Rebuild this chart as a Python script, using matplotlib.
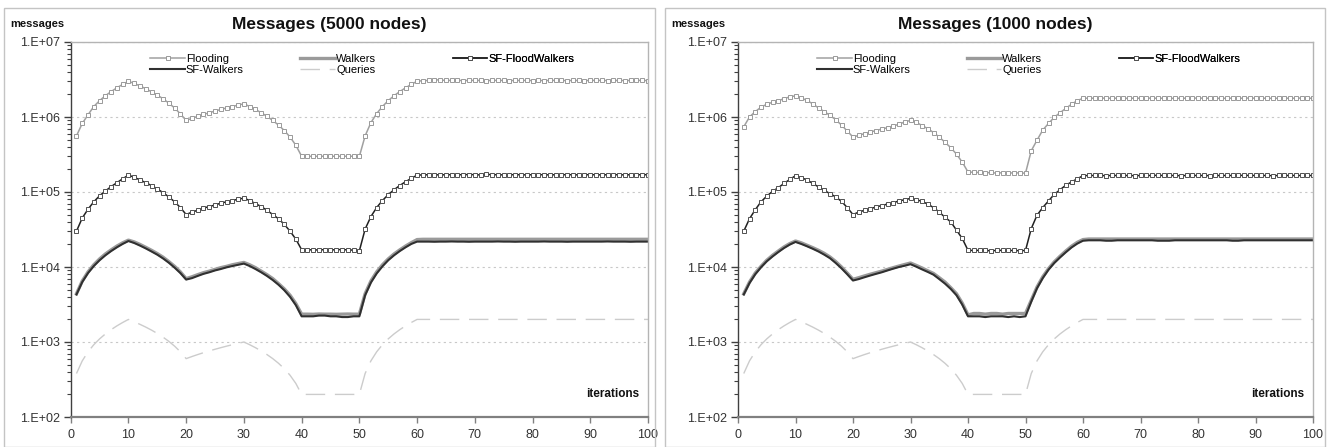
import numpy as np
import matplotlib
matplotlib.use("Agg")
import matplotlib.pyplot as plt
from matplotlib.patches import Rectangle
from matplotlib.ticker import LogLocator, FixedLocator, FuncFormatter, NullFormatter

plt.rcParams['font.family'] = ['Liberation Sans', 'DejaVu Sans']

iterations = np.arange(1, 101)

queries = [380, 560, 740, 920, 1100, 1280, 1460, 1640, 1820, 2000,
           1860, 1720, 1580, 1440, 1300, 1160, 1020, 880, 740, 600,
           640, 680, 720, 760, 800, 840, 880, 920, 960, 1000,
           920, 840, 760, 680, 600, 520, 440, 360, 280, 200,
           200, 200, 200, 200, 200, 200, 200, 200, 200, 200,
           380, 560, 740, 920, 1100, 1280, 1460, 1640, 1820, 2000,
           2000, 2000, 2000, 2000, 2000, 2000, 2000, 2000, 2000, 2000,
           2000, 2000, 2000, 2000, 2000, 2000, 2000, 2000, 2000, 2000,
           2000, 2000, 2000, 2000, 2000, 2000, 2000, 2000, 2000, 2000,
           2000, 2000, 2000, 2000, 2000, 2000, 2000, 2000, 2000, 2000]

# ---- 5000 nodes ----
flooding_5000 = [5.6e5, 8.2e5, 1.07e6, 1.38e6, 1.65e6, 1.92e6, 2.18e6, 2.45e6, 2.72e6, 3.0e6,
                 2.8e6, 2.6e6, 2.38e6, 2.17e6, 1.96e6, 1.75e6, 1.53e6, 1.32e6, 1.1e6, 0.9e6,
                 0.96e6, 1.02e6, 1.08e6, 1.14e6, 1.2e6, 1.26e6, 1.32e6, 1.38e6, 1.44e6, 1.5e6,
                 1.38e6, 1.26e6, 1.14e6, 1.02e6, 0.9e6, 0.78e6, 0.66e6, 0.54e6, 0.42e6, 0.3e6,
                 3.0e5, 2.98e5, 3.0e5, 2.99e5, 3.01e5, 2.98e5, 3.0e5, 2.99e5, 3.0e5, 2.98e5,
                 5.6e5, 8.4e5, 1.11e6, 1.38e6, 1.65e6, 1.92e6, 2.18e6, 2.45e6, 2.72e6, 3.0e6,
                 3.05e6, 3.07e6, 3.15e6, 3.1e6, 3.08e6, 3.07e6, 3.08e6, 3.06e6, 3.07e6, 3.08e6,
                 3.07e6, 3.06e6, 3.07e6, 3.08e6, 3.07e6, 3.06e6, 3.07e6, 3.07e6, 3.08e6, 3.06e6,
                 3.07e6, 3.06e6, 3.07e6, 3.08e6, 3.07e6, 3.06e6, 3.07e6, 3.07e6, 3.06e6, 3.07e6,
                 3.08e6, 3.07e6, 3.06e6, 3.07e6, 3.07e6, 3.06e6, 3.07e6, 3.08e6, 3.07e6, 3.06e6]

walkers_5000 = [4400, 6500, 8600, 10700, 12800, 14900, 16900, 19000, 21000, 22800,
                21600, 20000, 18300, 16700, 15100, 13500, 11800, 10200, 8600, 7000,
                7400, 7900, 8400, 8800, 9300, 9800, 10200, 10700, 11100, 11500,
                10700, 9800, 8800, 7900, 7000, 6000, 5100, 4200, 3250, 2350,
                2350, 2340, 2360, 2350, 2350, 2340, 2350, 2360, 2350, 2350,
                4400, 6500, 8600, 10700, 12800, 14900, 16900, 19000, 21100, 23200,
                23400, 23400, 23400, 23400, 23400, 23400, 23400, 23400, 23400, 23400,
                23400, 23400, 23400, 23400, 23400, 23400, 23400, 23400, 23400, 23400,
                23400, 23400, 23400, 23400, 23400, 23400, 23400, 23400, 23400, 23400,
                23400, 23400, 23400, 23400, 23400, 23400, 23400, 23400, 23400, 23400]

sf_flood_5000 = [3.0e4, 4.5e4, 5.9e4, 7.4e4, 8.9e4, 1.03e5, 1.18e5, 1.33e5, 1.5e5, 1.68e5,
                 1.57e5, 1.45e5, 1.33e5, 1.22e5, 1.1e5, 9.8e4, 8.6e4, 7.4e4, 6.2e4, 5.0e4,
                 5.4e4, 5.7e4, 6.1e4, 6.4e4, 6.7e4, 7.1e4, 7.4e4, 7.7e4, 8.0e4, 8.3e4,
                 7.7e4, 7.0e4, 6.4e4, 5.7e4, 5.0e4, 4.4e4, 3.7e4, 3.0e4, 2.35e4, 1.7e4,
                 1.69e4, 1.7e4, 1.68e4, 1.71e4, 1.69e4, 1.7e4, 1.71e4, 1.69e4, 1.68e4, 1.64e4,
                 3.2e4, 4.7e4, 6.2e4, 7.7e4, 9.2e4, 1.07e5, 1.22e5, 1.37e5, 1.52e5, 1.68e5,
                 1.69e5, 1.7e5, 1.7e5, 1.69e5, 1.7e5, 1.7e5, 1.7e5, 1.7e5, 1.71e5, 1.7e5,
                 1.69e5, 1.72e5, 1.7e5, 1.7e5, 1.69e5, 1.7e5, 1.7e5, 1.7e5, 1.69e5, 1.7e5,
                 1.7e5, 1.7e5, 1.69e5, 1.7e5, 1.7e5, 1.7e5, 1.7e5, 1.69e5, 1.7e5, 1.7e5,
                 1.7e5, 1.69e5, 1.7e5, 1.7e5, 1.7e5, 1.69e5, 1.7e5, 1.7e5, 1.7e5, 1.7e5]

sf_walkers_5000 = [4300, 6300, 8300, 10300, 12300, 14300, 16300, 18300, 20300, 22200,
                   20900, 19300, 17700, 16100, 14600, 13000, 11400, 9800, 8300, 6800,
                   7100, 7600, 8100, 8500, 9000, 9400, 9900, 10300, 10700, 11100,
                   10300, 9400, 8500, 7600, 6700, 5800, 4900, 4000, 3100, 2200,
                   2200, 2200, 2250, 2250, 2200, 2200, 2150, 2150, 2200, 2200,
                   4200, 6200, 8200, 10200, 12300, 14300, 16300, 18300, 20300, 21800,
                   21800, 21800, 21700, 21800, 21800, 21900, 21800, 21800, 21700, 21800,
                   21800, 21800, 21800, 21900, 21800, 21800, 21700, 21800, 21800, 21800,
                   21800, 21900, 21800, 21800, 21800, 21700, 21800, 21800, 21800, 21800,
                   21800, 21800, 21900, 21800, 21800, 21800, 21700, 21800, 21800, 21800]

# ---- 1000 nodes ----
flooding_1000 = [7.4e5, 1.0e6, 1.18e6, 1.35e6, 1.48e6, 1.57e6, 1.64e6, 1.76e6, 1.85e6, 1.92e6,
                 1.8e6, 1.66e6, 1.5e6, 1.32e6, 1.18e6, 1.05e6, 0.92e6, 0.78e6, 0.65e6, 0.54e6,
                 0.57e6, 0.6e6, 0.63e6, 0.66e6, 0.69e6, 0.72e6, 0.76e6, 0.8e6, 0.86e6, 0.9e6,
                 0.85e6, 0.77e6, 0.7e6, 0.62e6, 0.54e6, 0.46e6, 0.39e6, 0.32e6, 0.25e6, 0.185e6,
                 1.83e5, 1.82e5, 1.8e5, 1.82e5, 1.78e5, 1.81e5, 1.8e5, 1.79e5, 1.8e5, 1.78e5,
                 3.55e5, 4.9e5, 6.7e5, 8.2e5, 9.9e5, 1.14e6, 1.3e6, 1.48e6, 1.65e6, 1.78e6,
                 1.78e6, 1.78e6, 1.79e6, 1.78e6, 1.78e6, 1.78e6, 1.77e6, 1.78e6, 1.78e6, 1.78e6,
                 1.79e6, 1.78e6, 1.78e6, 1.78e6, 1.78e6, 1.77e6, 1.78e6, 1.78e6, 1.78e6, 1.79e6,
                 1.78e6, 1.78e6, 1.78e6, 1.77e6, 1.78e6, 1.78e6, 1.78e6, 1.78e6, 1.79e6, 1.78e6,
                 1.78e6, 1.78e6, 1.77e6, 1.78e6, 1.78e6, 1.78e6, 1.78e6, 1.79e6, 1.78e6, 1.78e6]

walkers_1000 = [4400, 6300, 8300, 10200, 12300, 14300, 16300, 18500, 20500, 22200,
                21000, 19500, 18100, 16700, 15200, 13600, 11800, 10000, 8300, 6850,
                7200, 7600, 8000, 8400, 8800, 9300, 9800, 10300, 10800, 11300,
                10500, 9700, 8900, 8200, 7200, 6300, 5300, 4400, 3300, 2300,
                2400, 2400, 2350, 2400, 2400, 2350, 2400, 2400, 2400, 2400,
                3600, 5400, 7400, 9500, 11700, 13900, 16300, 18900, 21300, 23200,
                23600, 23600, 23600, 23600, 23600, 23600, 23600, 23600, 23600, 23600,
                23600, 23600, 23600, 23600, 23600, 23600, 23600, 23600, 23600, 23600,
                23600, 23600, 23600, 23600, 23600, 23600, 23600, 23600, 23600, 23600,
                23600, 23600, 23600, 23600, 23600, 23600, 23600, 23600, 23600, 23600]

sf_flood_1000 = [3.0e4, 4.4e4, 5.8e4, 7.4e4, 8.8e4, 1.02e5, 1.14e5, 1.3e5, 1.47e5, 1.65e5,
                 1.55e5, 1.45e5, 1.3e5, 1.17e5, 1.05e5, 9.5e4, 8.6e4, 7.5e4, 6.2e4, 5.0e4,
                 5.4e4, 5.7e4, 6.0e4, 6.3e4, 6.6e4, 6.9e4, 7.2e4, 7.6e4, 7.9e4, 8.2e4,
                 7.9e4, 7.5e4, 6.9e4, 6.2e4, 5.4e4, 4.6e4, 4.0e4, 3.1e4, 2.4e4, 1.67e4,
                 1.66e4, 1.67e4, 1.66e4, 1.65e4, 1.66e4, 1.67e4, 1.66e4, 1.66e4, 1.65e4, 1.66e4,
                 3.25e4, 4.9e4, 6.2e4, 7.6e4, 9.3e4, 1.07e5, 1.23e5, 1.36e5, 1.5e5, 1.65e5,
                 1.66e5, 1.66e5, 1.66e5, 1.65e5, 1.66e5, 1.66e5, 1.66e5, 1.66e5, 1.65e5, 1.66e5,
                 1.66e5, 1.66e5, 1.67e5, 1.66e5, 1.66e5, 1.66e5, 1.65e5, 1.66e5, 1.66e5, 1.66e5,
                 1.66e5, 1.65e5, 1.66e5, 1.66e5, 1.66e5, 1.66e5, 1.66e5, 1.67e5, 1.66e5, 1.66e5,
                 1.66e5, 1.66e5, 1.65e5, 1.66e5, 1.66e5, 1.66e5, 1.66e5, 1.66e5, 1.66e5, 1.66e5]

sf_walkers_1000 = [4300, 6100, 8000, 9900, 11900, 13800, 15800, 17900, 19900, 21600,
                   20300, 18900, 17500, 16100, 14600, 13100, 11300, 9600, 8000, 6600,
                   6900, 7300, 7700, 8100, 8500, 9000, 9500, 10000, 10400, 10900,
                   10100, 9300, 8600, 7900, 6900, 6000, 5100, 4200, 3150, 2200,
                   2200, 2200, 2150, 2200, 2200, 2200, 2150, 2200, 2150, 2200,
                   3450, 5200, 7100, 9200, 11300, 13400, 15700, 18200, 20500, 22400,
                   22700, 22700, 22700, 22400, 22400, 22700, 22700, 22700, 22700, 22700,
                   22700, 22700, 22400, 22400, 22400, 22700, 22700, 22700, 22700, 22700,
                   22700, 22700, 22700, 22700, 22700, 22400, 22400, 22700, 22700, 22700,
                   22700, 22700, 22700, 22700, 22700, 22700, 22700, 22700, 22700, 22700]

titles = ["Messages (5000 nodes)", "Messages (1000 nodes)"]

W, H = 1328, 447
fig = plt.figure(figsize=(W / 100, H / 100), dpi=100)

# panel frames (pixels: left, right)
panels = [(4, 655), (665, 1325)]
axes_px = [(70.7, 648), (738, 1313)]
plot_top, plot_bottom = 42, 417


def px_box(x0, x1, y0, y1):
    return [x0 / W, 1 - y1 / H, (x1 - x0) / W, (y1 - y0) / H]


def log_label(v, pos):
    return "1.E+%02d" % int(round(np.log10(v)))


def draw(ax, flooding, walkers, sf_flood, sf_walkers):
    l_flood, = ax.plot(iterations, flooding, color='#a0a0a0', lw=1.1, marker='s', ms=2.4,
                       mfc='white', mec='#9a9a9a', mew=0.7, label='Flooding')
    l_walk, = ax.plot(iterations, walkers, color='#9a9a9a', lw=2.4, label='Walkers')
    l_sfw, = ax.plot(iterations, sf_walkers, color='#303030', lw=1.5, label='SF-Walkers')
    l_sff, = ax.plot(iterations, sf_flood, color='#202020', lw=1.1, marker='s', ms=2.4,
                     mfc='white', mec='#505050', mew=0.7, label='SF-FloodWalkers')
    l_q, = ax.plot(iterations, queries, color='#cccccc', lw=1.0, dashes=(14, 7), label='Queries')

    ax.set_yscale('log')
    ax.set_xlim(0, 100)
    ax.set_ylim(1e2, 1e7)
    ax.xaxis.set_major_locator(FixedLocator(range(0, 101, 10)))
    ax.yaxis.set_major_locator(LogLocator(base=10, numticks=10))
    ax.yaxis.set_minor_locator(LogLocator(base=10, subs=np.arange(2, 10), numticks=20))
    ax.yaxis.set_major_formatter(FuncFormatter(log_label))
    ax.yaxis.set_minor_formatter(NullFormatter())

    ax.tick_params(axis='y', which='major', direction='out', length=5, width=1,
                   color='#404040', labelsize=9, labelcolor='#333333', pad=3)
    ax.tick_params(axis='y', which='minor', direction='out', length=3, width=0.8,
                   color='#404040')
    ax.tick_params(axis='x', which='major', direction='out', length=4, width=1,
                   color='#808080', labelsize=9, labelcolor='#333333', pad=5)

    ax.yaxis.grid(True, which='major', linestyle=(0, (2, 3)), color='#c8c8c8', lw=0.8)
    ax.set_axisbelow(True)

    ax.spines['left'].set_color('#404040')
    ax.spines['left'].set_linewidth(1)
    ax.spines['bottom'].set_color('#808080')
    ax.spines['bottom'].set_linewidth(1.6)
    for s in ('top', 'right'):
        ax.spines[s].set_color('#b4b4b4')
        ax.spines[s].set_linewidth(1)

    cols = [([l_flood, l_sfw], 0.138), ([l_walk, l_q], 0.398), ([l_sff], 0.662)]
    for handles, xpos in cols:
        leg = ax.legend(handles=handles, loc='upper left', bbox_to_anchor=(xpos, 0.968),
                        frameon=False, fontsize=8, handlelength=3.1, handletextpad=0.1,
                        labelspacing=0.05, borderpad=0, borderaxespad=0, numpoints=1)
        ax.add_artist(leg)

    ax.text(0.985, 0.062, 'iterations', transform=ax.transAxes, ha='right', va='center',
            fontsize=8.5, fontweight='bold', color='#111111')


all_data = [(flooding_5000, walkers_5000, sf_flood_5000, sf_walkers_5000),
            (flooding_1000, walkers_1000, sf_flood_1000, sf_walkers_1000)]

for i in range(2):
    p0, p1 = panels[i]
    fig.patches.append(Rectangle((p0 / W, 0), (p1 - p0) / W, 1 - 8 / H,
                                 transform=fig.transFigure, fill=False,
                                 edgecolor='#c4c4c4', lw=1))
    a0, a1 = axes_px[i]
    ax = fig.add_axes(px_box(a0, a1, plot_top, plot_bottom))
    draw(ax, *all_data[i])
    fig.text((p0 + p1) / 2 / W, 1 - 25 / H, titles[i], ha='center', va='center',
             fontsize=12.5, fontweight='bold', color='#111111')
    fig.text((p0 + 6) / W, 1 - 24 / H, 'messages', ha='left', va='center',
             fontsize=8, fontweight='bold', color='#111111')

fig.savefig('out.png', dpi=100)
